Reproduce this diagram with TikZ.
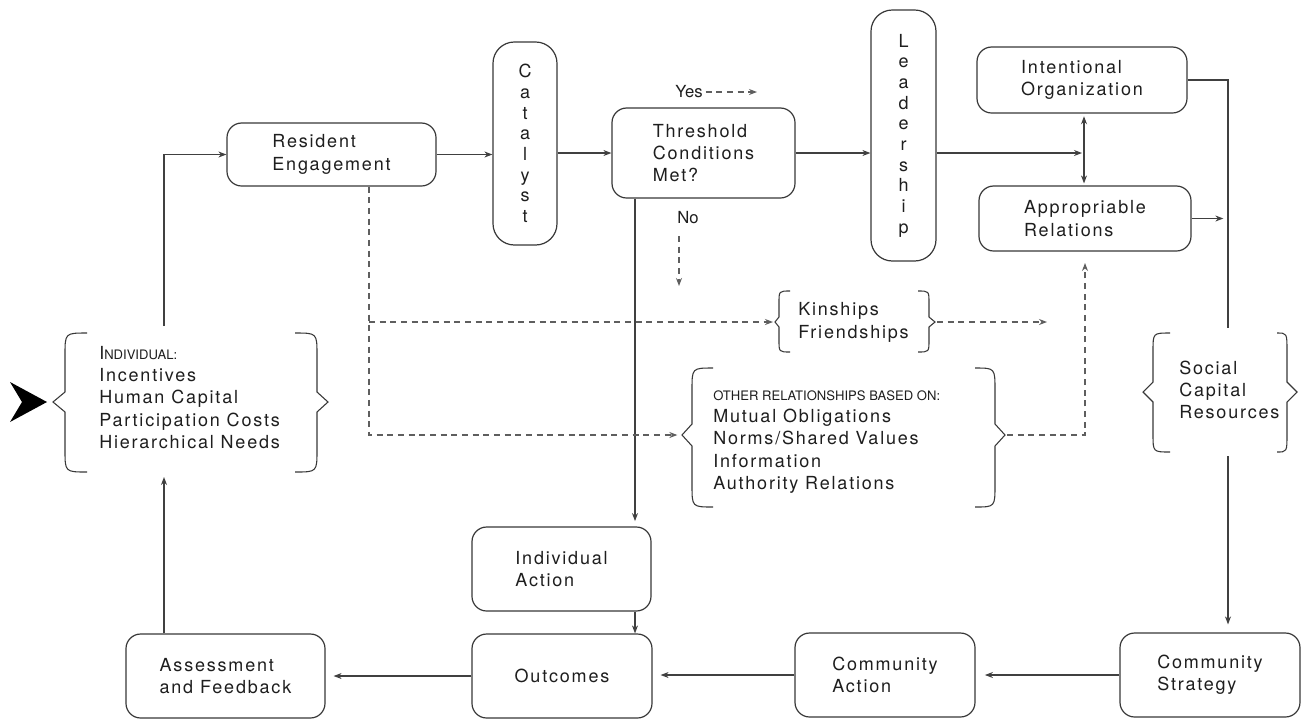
\documentclass[tikz,border=0pt]{standalone}
\usepackage{fontspec}
\setmainfont{TeX Gyre Heros}[LetterSpace=10]
\newfontfamily\plainfont{TeX Gyre Heros}
\usetikzlibrary{arrows.meta}
\definecolor{ink}{HTML}{1E1E1E}
\definecolor{edgec}{HTML}{383838}
\definecolor{linec}{HTML}{404040}
\definecolor{dashcol}{HTML}{5E5E5E}
\newcommand\mainsize{\fontsize{13.5}{16.8}\selectfont}
\newcommand\smallcapsz{\plainfont\fontsize{9.8}{10}\selectfont}
\newcommand\bracepath[8]{%
  \draw[bracestyle] (#1,#4) .. controls (#2,#4) .. (#2,{#4+#7}) -- (#2,{#5-#8}) -- (#3,#5) -- (#2,{#5+#8}) -- (#2,{#6-#7}) .. controls (#2,#6) .. (#1,#6);}
\begin{document}
\begin{tikzpicture}[x=0.75pt,y=-0.75pt,
  box/.style={draw=edgec, line width=0.9pt, rounded corners=11pt, align=left, inner sep=0pt, text=ink, font=\mainsize},
  vbox/.style={draw=edgec, line width=0.9pt, rounded corners=16pt, align=center, inner sep=0pt, text=ink, font={\fontsize{13.5}{15.5}\selectfont}},
  btext/.style={align=left, inner sep=0pt, text=ink, font=\mainsize},
  lbl/.style={inner sep=0pt, text=ink, font={\plainfont\fontsize{12.5}{14}\selectfont}},
  conn/.style={draw=linec, line width=0.8pt},
  dashc/.style={draw=dashcol, line width=0.8pt, dash pattern=on 4.5pt off 3.5pt},
  bracestyle/.style={draw=edgec, line width=0.8pt},
  >={Stealth[length=6pt,width=4.5pt]}
]
\fill[white] (0,0) rectangle (1304,719);
\useasboundingbox (0,0) rectangle (1304,719);

% boxes
\node[box, minimum width=156.75pt, minimum height=47.25pt] (res) at (331.5,154.5) {Resident\\Engagement};
\node[vbox, minimum width=48pt, minimum height=152.25pt] (cat) at (525,143.5) {C\\a\\t\\a\\l\\y\\s\\t};
\node[box, minimum width=137.25pt, minimum height=67.5pt] (thr) at (703.5,153) {Threshold\\Conditions\\Met?};
\node[vbox, minimum width=48.75pt, minimum height=188.25pt] (lead) at (903.5,135.5) {L\\e\\a\\d\\e\\r\\s\\h\\i\\p};
\node[box, minimum width=157.5pt, minimum height=49.5pt] (io) at (1082,80) {Intentional\\Organization};
\node[box, minimum width=159pt, minimum height=48.75pt] (ar) at (1085,218.5) {Appropriable\\Relations};
\node[box, minimum width=134.25pt, minimum height=63pt] (ia) at (561.5,569) {Individual\\Action};
\node[box, minimum width=135pt, minimum height=63pt] (out) at (562,676) {Outcomes};
\node[box, minimum width=149.25pt, minimum height=63pt] (asm) at (225.5,676) {Assessment\\and Feedback};
\node[box, minimum width=135pt, minimum height=63pt] (ca) at (885,675) {Community\\Action};
\node[box, minimum width=135pt, minimum height=63pt] (cs) at (1210,675) {Community\\Strategy};

% brace texts
\node[btext, anchor=west] (indiv) at (99,397.5) {{\plainfont\fontsize{13.5}{16.8}\selectfont I}{\smallcapsz NDIVIDUAL:}\\Incentives\\Human Capital\\Participation Costs\\Hierarchical Needs};
\node[btext, anchor=west] (kin) at (798,322.5) {Kinships\\Friendships};
\node[btext, anchor=west] (oth) at (713,442) {{\smallcapsz OTHER RELATIONSHIPS BASED ON:}\\Mutual Obligations\\Norms/Shared Values\\Information\\Authority Relations};
\node[btext, anchor=west] (scr) at (1179,390) {Social\\Capital\\Resources};

% braces
\bracepath{87}{65}{53}{333}{402}{472}{22}{10}
\bracepath{295}{317}{328}{333}{402}{472}{22}{10}
\bracepath{790}{779}{775}{291}{322}{352}{12}{5}
\bracepath{918}{929}{935}{291}{322}{352}{12}{5}
\bracepath{713}{692}{682}{368}{435}{507}{22}{11}
\bracepath{975}{995}{1005}{368}{435}{507}{22}{11}
\bracepath{1170}{1153}{1143}{333}{392}{452}{18}{10}
\bracepath{1277}{1287}{1297}{333}{392}{452}{18}{10}

% big entry arrowhead
\fill[black] (10,382) -- (47,402) -- (10,422) -- (22,402) -- cycle;

% coordinates
\coordinate (indivTop) at (164,326);
\coordinate (indivBot) at (164,477);
\coordinate (kinL) at (775,322);
\coordinate (kinR) at (937,322);
\coordinate (kinEnd) at (1047,322);
\coordinate (othL) at (682,435);
\coordinate (othR) at (1007,435);
\coordinate (arIn) at (1085,263);
\coordinate (scrTop) at (1228,328);
\coordinate (scrBot) at (1228,456);
\coordinate (jn) at (1084,153);
\coordinate (vx) at (635,0);
\coordinate (rdx) at (369,435);
\coordinate (yesEnd) at (757,92);
\coordinate (noStart) at (679,236);
\coordinate (noEnd) at (679,286);

% solid connectors
\draw[conn,->] (indivTop) |- (res.west);
\draw[conn,->] (asm.north -| indivBot) -- (indivBot);
\draw[conn,->] (res.east) -- (res.east -| cat.west);
\draw[conn,->] (thr.west -| cat.east) -- (thr.west);
\draw[conn,->] (thr.east) -- (thr.east -| lead.west);
\draw[conn,->,shorten >=1.5pt] (lead.east |- jn) -- (jn);
\draw[conn,<->,shorten <=2pt,shorten >=1.5pt] (io.south -| jn) -- (ar.north -| jn);
\draw[conn] (io.east) -| (scrTop);
\draw[conn,->,shorten >=3.5pt] (ar.east) -- (ar.east -| scrTop);
\draw[conn,->,shorten >=6pt] (scrBot) -- (cs.north -| scrBot);
\draw[conn,->,shorten >=7pt] (cs.west) -- (cs.west -| ca.east);
\draw[conn,->,shorten >=6pt] (ca.west) -- (ca.west -| out.east);
\draw[conn,->,shorten >=6pt] (out.west) -- (out.west -| asm.east);
\draw[conn,->] (ia.south -| vx) -- (out.north -| vx);
\draw[conn,->,shorten >=4pt] (thr.south -| vx) -- (ia.north -| vx);

% labels
\node[lbl] (yes) at (689,92) {Yes};
\node[lbl] (no) at (688,218) {No};

% dashed connectors
\draw[dashc,->] ([xshift=2pt]yes.east) -- (yes.east -| yesEnd);
\draw[dashc,->] (noStart) -- (noEnd);
\draw[dashc,->,shorten >=3.5pt] (res.south -| rdx) -- (rdx) -- (othL);
\draw[dashc,->,shorten >=1.5pt] (rdx |- kinL) -- (kinL);
\draw[dashc,->] (kinR) -- (kinEnd);
\draw[dashc,->] (othR) -| (arIn);
\end{tikzpicture}
\end{document}
